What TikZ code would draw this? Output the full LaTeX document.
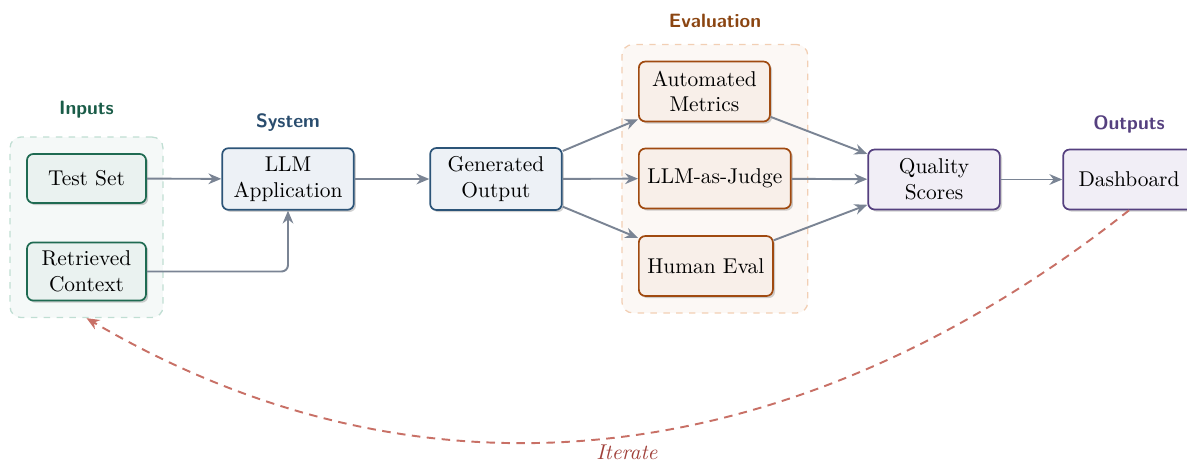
\documentclass[tikz,border=0pt]{standalone}
\usepackage{fontspec}
\usetikzlibrary{arrows.meta,positioning,fit,backgrounds,shadows}
\definecolor{inBorder}{HTML}{1F6B52}
\definecolor{inFill}{HTML}{EAF2F0}
\definecolor{inGroupFill}{HTML}{F5F9F8}
\definecolor{inGroupLine}{HTML}{C0DED3}
\definecolor{inTitle}{HTML}{1A5C48}
\definecolor{sysBorder}{HTML}{2C5478}
\definecolor{sysFill}{HTML}{EDF1F6}
\definecolor{sysTitle}{HTML}{2A4D6E}
\definecolor{evBorder}{HTML}{A04A10}
\definecolor{evFill}{HTML}{F8EFE9}
\definecolor{evGroupFill}{HTML}{FCF8F5}
\definecolor{evGroupLine}{HTML}{F2CFB4}
\definecolor{evTitle}{HTML}{8B4511}
\definecolor{outBorder}{HTML}{55407F}
\definecolor{outFill}{HTML}{F1EEF6}
\definecolor{outTitle}{HTML}{55407F}
\definecolor{arrowGray}{HTML}{7A8494}
\definecolor{iterLine}{HTML}{C87066}
\definecolor{iterText}{HTML}{A0403A}
\tikzset{
  basebox/.style={draw, rounded corners=3pt, line width=0.8pt, align=center,
    inner sep=4pt, minimum width=61.5pt, minimum height=28pt,
    drop shadow={shadow xshift=1pt, shadow yshift=-1pt, opacity=0.18, fill=black}},
  inbox/.style={basebox, draw=inBorder, fill=inFill, minimum width=55.6pt, minimum height=22.9pt},
  sysbox/.style={basebox, draw=sysBorder, fill=sysFill},
  evbox/.style={basebox, draw=evBorder, fill=evFill, minimum width=61.2pt},
  outbox/.style={basebox, draw=outBorder, fill=outFill},
  groupbox/.style={draw, dashed, rounded corners=5pt, line width=0.6pt, inner sep=7.5pt},
  grouptitle/.style={font=\sffamily\bfseries\small},
  flow/.style={draw=arrowGray, line width=0.9pt, -{Stealth[length=6pt,width=5pt]}},
  iterflow/.style={draw=iterLine, line width=0.9pt, dash pattern=on 4pt off 3pt,
    -{Stealth[length=6pt,width=5pt]}},
}
\begin{document}
\begin{tikzpicture}[x=0.467pt, y=-0.467pt]
\useasboundingbox (0,0) rectangle (1187,461);
% Inputs
\node[inbox] (test) at (86.5,178.5) {Test Set};
\node[inbox] (ctx) at (86.5,271.5) {Retrieved\\Context};
% System
\node[sysbox] (llm) at (288,179) {LLM\\Application};
\node[sysbox] (gen) at (496,179) {Generated\\Output};
% Evaluation
\node[evbox, anchor=west] (auto) at (638,91.5) {Automated\\Metrics};
\node[evbox, anchor=west] (judge) at (638,178.5) {LLM-as-Judge};
\node[evbox, anchor=west] (human) at (638,266) {Human Eval};
% Outputs
\node[outbox] (qual) at (934,179.5) {Quality\\Scores};
\node[outbox] (dash) at (1129,179.5) {Dashboard};

\begin{scope}[on background layer]
  \node[groupbox, draw=inGroupLine, fill=inGroupFill, fit=(test)(ctx)] (ingroup) {};
  \node[groupbox, draw=evGroupLine, fill=evGroupFill, fit=(auto)(judge)(human)] (evgroup) {};
\end{scope}

\node[grouptitle, text=inTitle] (intitle) at (86.5,110) {Inputs};
\node[grouptitle, text=sysTitle] (systitle) at (288,123) {System};
\node[grouptitle, text=evTitle] (evtitle) at (715,21) {Evaluation};
\node[grouptitle, text=outTitle] (outtitle) at (1129,124) {Outputs};

\draw[flow] (test) -- (llm);
\draw[flow, rounded corners=3pt] (ctx.east) -| (llm.south);
\draw[flow] (llm) -- (gen);
\draw[flow] (gen) -- (auto);
\draw[flow] (gen) -- (judge);
\draw[flow] (gen) -- (human);
\draw[flow] (auto) -- (qual);
\draw[flow] (judge) -- (qual);
\draw[flow] (human) -- (qual);
\draw[flow] (qual) -- (dash);

\coordinate (c1) at (800,470);
\coordinate (c2) at (430,520);
\draw[iterflow] (dash.south) .. controls (c1) and (c2) .. (ingroup.south);
\node[text=iterText, font=\itshape] (iter) at (627,452) {Iterate};
\end{tikzpicture}
\end{document}
